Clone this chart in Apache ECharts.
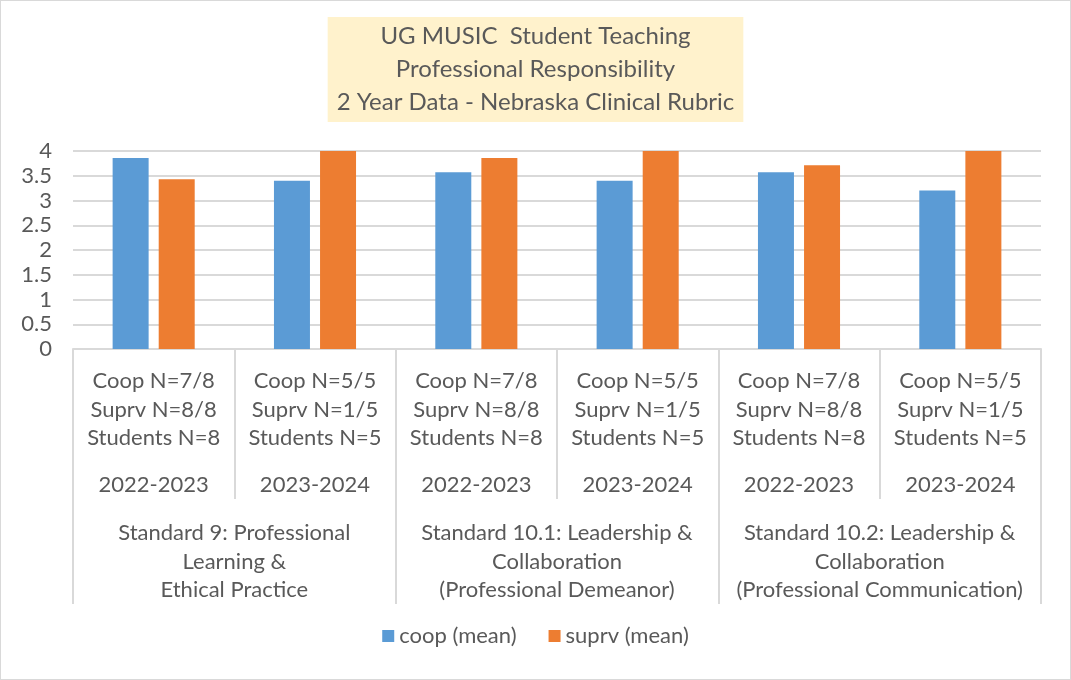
<!DOCTYPE html>
<html>
<head>
<meta charset="utf-8">
<script src="https://cdn.jsdelivr.net/npm/echarts@6/dist/echarts.min.js"></script>
<style>
  html, body { margin: 0; padding: 0; background: #fff; }
  #chart { width: 1069px; height: 678px; border: 1px solid #d9d9d9; }
</style>
</head>
<body>
<div id="chart"></div>
<script>
/* global echarts */
const nLabels = [
    'Coop N=7/8\nSuprv N=8/8\nStudents N=8',
    'Coop N=5/5\nSuprv N=1/5\nStudents N=5',
    'Coop N=7/8\nSuprv N=8/8\nStudents N=8',
    'Coop N=5/5\nSuprv N=1/5\nStudents N=5',
    'Coop N=7/8\nSuprv N=8/8\nStudents N=8',
    'Coop N=5/5\nSuprv N=1/5\nStudents N=5'
];
const years = ['2022-2023', '2023-2024', '2022-2023', '2023-2024', '2022-2023', '2023-2024'];
const standards = [
    'Standard 9: Professional\nLearning &\nEthical Practice',
    'Standard 10.1: Leadership &\nCollaboration\n(Professional Demeanor)',
    'Standard 10.2: Leadership &\nCollaboration\n(Professional Communication)'
];
const coop_mean = [3.86, 3.4, 3.57, 3.4, 3.57, 3.2];
const suprv_mean = [3.43, 4, 3.86, 4, 3.71, 4];

const FONT = 'Lato';
const TXT = '#595959';
const LINE = '#d9d9d9';
const FS = 22;

const chart = echarts.init(document.getElementById('chart'));

function lower_axis(data, extra) {
    return Object.assign({
        type: 'category',
        position: 'bottom',
        data: data,
        axisLine: { show: false },
        axisTick: { show: false },
        splitLine: { show: false }
    }, extra);
}

const option = {
    textStyle: { fontFamily: FONT },
    title: {
        text: 'UG MUSIC  Student Teaching\nProfessional Responsibility\n2 Year Data - Nebraska Clinical Rubric',
        left: 'center',
        top: 16,
        backgroundColor: '#fff2cc',
        padding: [3, 9, 3, 9],
        textStyle: { color: TXT, fontFamily: FONT, fontSize: 24, fontWeight: 'normal', lineHeight: 33 }
    },
    legend: {
        bottom: 27,
        left: 'center',
        icon: 'rect',
        itemWidth: 12,
        itemHeight: 12,
        itemGap: 32,
        textStyle: { color: TXT, fontFamily: FONT, fontSize: FS },
        data: ['coop (mean)', 'suprv (mean)']
    },
    grid: { left: 72, right: 29, top: 150, bottom: 330 },
    yAxis: {
        type: 'value',
        min: 0,
        max: 4,
        interval: 0.5,
        axisLine: { show: false },
        axisTick: { show: false },
        axisLabel: { color: TXT, fontFamily: FONT, fontSize: FS, margin: 21 },
        splitLine: { lineStyle: { color: LINE, width: 2 } }
    },
    xAxis: [
        lower_axis(nLabels, {
            axisLine: { show: true, lineStyle: { color: LINE, width: 2 } },
            axisTick: { show: true, length: 150, lineStyle: { color: LINE, width: 2 } },
            axisLabel: {
                color: TXT, fontFamily: FONT, fontSize: FS, lineHeight: 28.5,
                interval: 0, margin: 18
            }
        }),
        lower_axis(years, {
            axisLabel: { color: TXT, fontFamily: FONT, fontSize: FS, lineHeight: 26, interval: 0, margin: 123 }
        }),
        lower_axis(standards, {
            axisTick: { show: true, length: 255, lineStyle: { color: LINE, width: 2 } },
            axisLabel: { color: TXT, fontFamily: FONT, fontSize: FS, lineHeight: 28.5, interval: 0, margin: 170 }
        })
    ],
    series: [
        {
            name: 'coop (mean)',
            type: 'bar',
            xAxisIndex: 0,
            data: coop_mean,
            barWidth: 36,
            barGap: '28%',
            itemStyle: { color: '#5b9bd5' }
        },
        {
            name: 'suprv (mean)',
            type: 'bar',
            xAxisIndex: 0,
            data: suprv_mean,
            barWidth: 36,
            barGap: '28%',
            itemStyle: { color: '#ed7d31' }
        }
    ]
};
chart.setOption(option);
</script>
</body>
</html>
